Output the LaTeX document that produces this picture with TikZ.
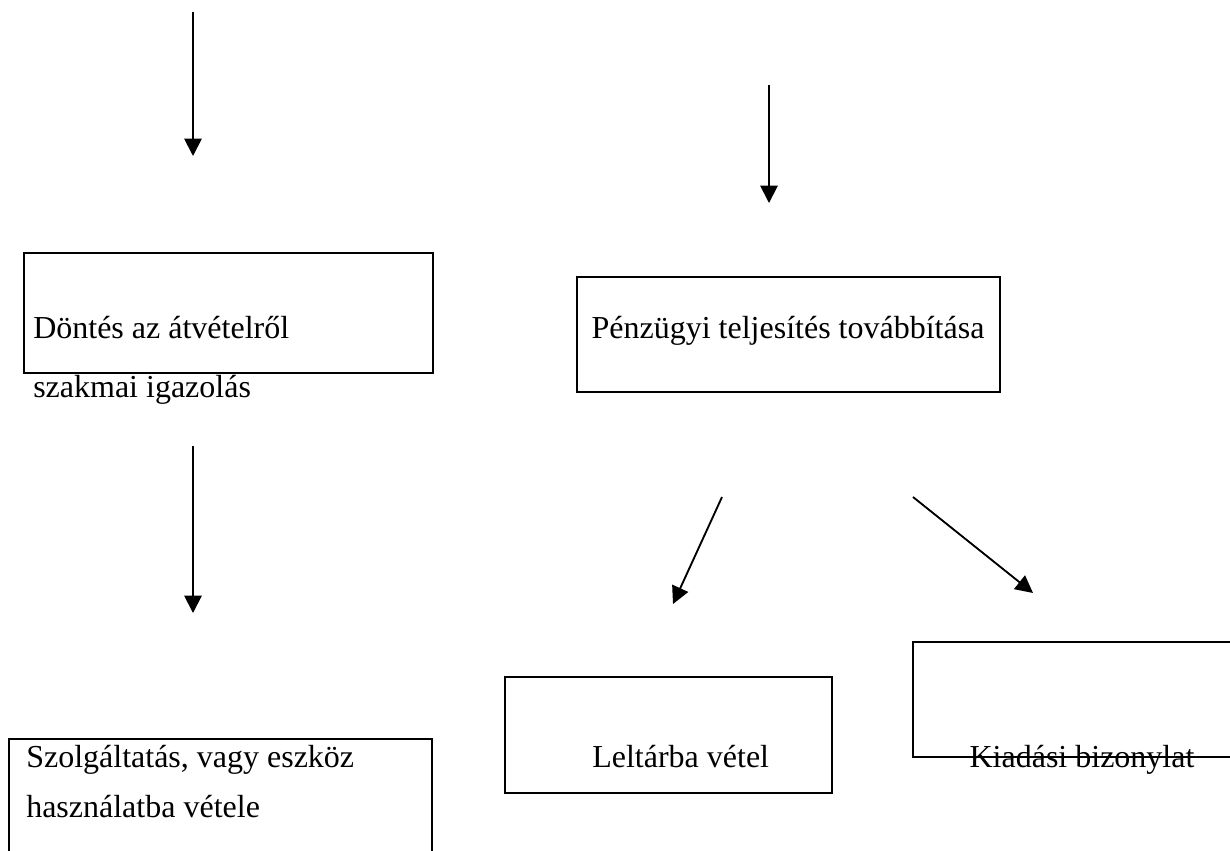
\documentclass[tikz,border=0pt]{standalone}
\usepackage{fontspec}
\setmainfont{Liberation Serif}
\usetikzlibrary{arrows.meta,fit}
\tikzset{
  box/.style={draw, line width=1.4pt, inner sep=0pt},
  boxline/.style={draw, line width=1.4pt},
  lbl/.style={inner sep=0pt, font=\fontsize{24}{28}\selectfont},
  arr/.style={line width=1.4pt, -{Triangle[length=13pt,width=13pt]}}
}
\begin{document}
\begin{tikzpicture}[x=0.75pt,y=-0.75pt]
\useasboundingbox (0,0) rectangle (1230,850);
\clip (0,0) rectangle (1230,850);
% box corners
\coordinate (d1) at (24,253);  \coordinate (d2) at (433,373);
\coordinate (p1) at (577,277); \coordinate (p2) at (1000,392);
\coordinate (l1) at (505,677); \coordinate (l2) at (832,793);
\coordinate (k1) at (1250,642); \coordinate (k2) at (913,642);
\coordinate (k3) at (913,757);  \coordinate (k4) at (1250,757);
\coordinate (sa) at (9,860);   \coordinate (sb) at (9,739);
\coordinate (sc) at (432,739); \coordinate (sd) at (432,860);
% boxes
\node[box, fit=(d1)(d2)] (dontes) {};
\node[box, fit=(p1)(p2)] (penz) {};
\node[box, fit=(l1)(l2)] (leltar) {};
\draw[boxline] (k1) -- (k2) -- (k3) -- (k4);
\draw[boxline] (sa) -- (sb) -- (sc) -- (sd);
% texts
\node[lbl, anchor=base west] (t1) at (33,338) {Döntés az átvételről};
\node[lbl, anchor=base west] (t2) at (33,397) {szakmai igazolás};
\node[lbl, anchor=base] (t3) at (788,338) {Pénzügyi teljesítés továbbítása};
\node[lbl, anchor=base west] (t4) at (592,767) {Leltárba vétel};
\node[lbl, anchor=base] (t5) at (1082,767) {Kiadási bizonylat};
\node[lbl, anchor=base west] (t6) at (26,767) {Szolgáltatás, vagy eszköz};
\node[lbl, anchor=base west] (t7) at (26,817) {használatba vétele};
% arrow end points
\coordinate (a1s) at (193,12);  \coordinate (a1e) at (193,156);
\coordinate (a2s) at (769,85);  \coordinate (a2e) at (769,203);
\coordinate (a3s) at (193,446); \coordinate (a3e) at (193,613);
\coordinate (a4s) at (722,497); \coordinate (a4e) at (673,604);
\coordinate (a5s) at (913,497); \coordinate (a5e) at (1033,593);
\draw[arr] (a1s) -- (a1e);
\draw[arr] (a2s) -- (a2e);
\draw[arr] (a3s) -- (a3e);
\draw[arr] (a4s) -- (a4e);
\draw[arr] (a5s) -- (a5e);
\end{tikzpicture}
\end{document}
